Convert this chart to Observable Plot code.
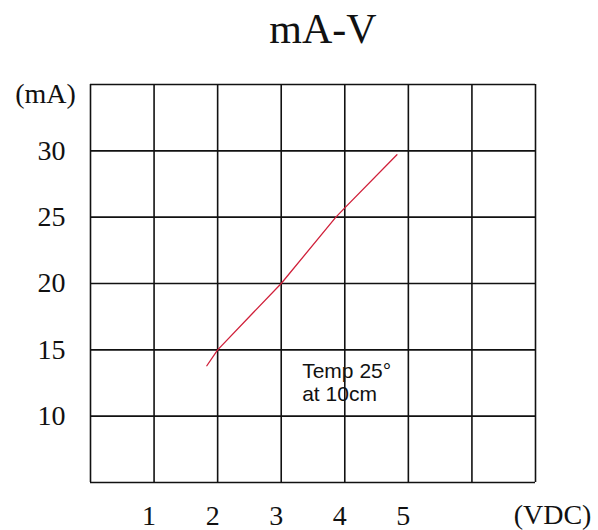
<!DOCTYPE html>
<html>
<head>
<meta charset="utf-8">
<script src="https://cdn.jsdelivr.net/npm/d3@7"></script>
<script src="https://cdn.jsdelivr.net/npm/@observablehq/plot@0.6"></script>
<style>
  html, body { margin: 0; padding: 0; background: #fff; }
  #title {
    box-sizing: border-box; width: 598px; height: 60px;
    padding-left: 48px; padding-top: 8px;
    text-align: center; font-family: "Liberation Serif", serif;
    font-size: 42px; line-height: 1; color: #111;
  }
  svg { display: block; }
</style>
</head>
<body>
<div id="title">mA-V</div>
<div id="chart"></div>
<script>
// Data
const voltage = [1.83, 2, 3, 3.86, 4, 4.82];      // VDC
const current = [13.8, 15, 20, 25, 25.7, 29.7];   // mA
const xTickValues = [1, 2, 3, 4, 5];
const yTickValues = [10, 15, 20, 25, 30];
const xGridValues = [0, 1, 2, 3, 4, 5, 6, 7];
const yGridValues = [5, 10, 15, 20, 25, 30, 35];
const noteText = ["Temp 25°\nat 10cm"];
const noteX = [3.33];
const noteY = [12.55];

const curve = voltage.map((v, i) => ({v, a: current[i]}));
const notes = noteText.map((t, i) => ({t, x: noteX[i], y: noteY[i]}));

const chart = Plot.plot({
  width: 598,
  height: 470,
  marginLeft: 90,
  marginRight: 63,
  marginTop: 24,
  marginBottom: 48,
  style: {fontFamily: "Liberation Serif", fontSize: "28px", background: "white", color: "#111", overflow: "visible"},
  x: {domain: [0, 7]},
  y: {domain: [5, 35]},
  marks: [
    Plot.gridX(xGridValues, {stroke: "#111", strokeOpacity: 1, strokeWidth: 1.6}),
    Plot.gridY(yGridValues, {stroke: "#111", strokeOpacity: 1, strokeWidth: 1.6}),
    Plot.line(curve, {x: "v", y: "a", stroke: "#d0203a", strokeWidth: 1.3}),
    Plot.axisX(xTickValues, {tickSize: 0, tickPadding: 23, dx: -5, label: null}),
    Plot.axisY(yTickValues, {tickSize: 0, tickPadding: 25, label: null}),
    Plot.text(["(mA)"], {frameAnchor: "top-left", dx: -45, dy: 10, textAnchor: "middle", lineAnchor: "middle"}),
    Plot.text(["(VDC)"], {frameAnchor: "bottom-right", dx: 17, dy: 33, textAnchor: "middle", lineAnchor: "middle"}),
    Plot.text(notes, {x: "x", y: "y", text: "t", textAnchor: "start", lineAnchor: "middle",
      fontFamily: "Liberation Sans", fontSize: 21, lineHeight: 1.1, fill: "#111"})
  ]
});
document.getElementById("chart").appendChild(chart);
</script>
</body>
</html>
